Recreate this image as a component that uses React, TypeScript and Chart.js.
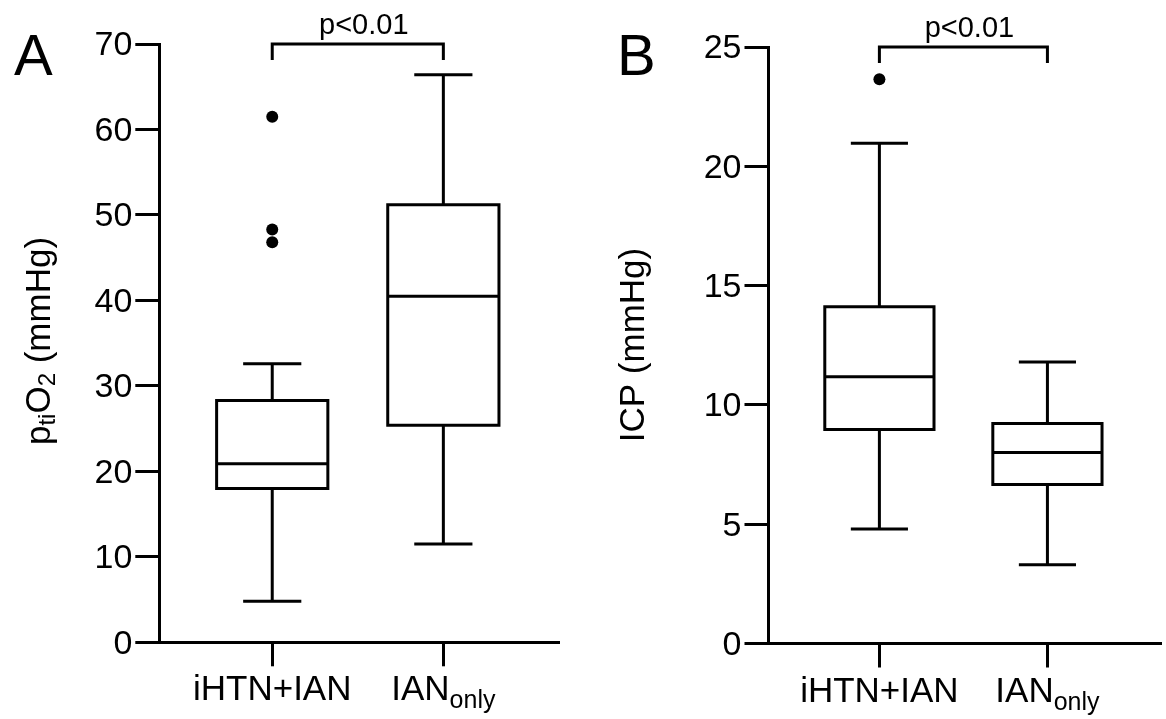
import React, { useEffect, useRef } from 'react';
import { Chart, registerables } from 'chart.js';

Chart.register(...registerables);

// ---------- data ----------
const categories = ['iHTN+IAN', 'IAN'];
const categorySubs = ['', 'only'];

// Panel A: ptiO2 (mmHg)
const aMin = [4.8, 11.5];
const aQ1 = [18.0, 25.4];
const aMedian = [20.9, 40.5];
const aQ3 = [28.3, 51.2];
const aMax = [32.6, 66.4];
const aOutliers = [[61.5, 48.3, 46.8], []];
const aTickStep = 10;
const aYMax = 70;

// Panel B: ICP (mmHg)
const bMin = [4.8, 3.3];
const bQ1 = [8.97, 6.66];
const bMedian = [11.18, 8.0];
const bQ3 = [14.11, 9.22];
const bMax = [20.97, 11.8];
const bOutliers = [[23.65], []];
const bTickStep = 5;
const bYMax = 25;

const pText = 'p<0.01';

// ---------- drawing helpers ----------
const FONT = '"Liberation Sans", Arial, Helvetica, sans-serif';

type Seg = { t: string; sub?: boolean };

function drawSegs(
  ctx: CanvasRenderingContext2D,
  segs: Seg[],
  x: number,
  y: number,
  size: number,
  subSize: number,
  subDrop: number
) {
  const widths = segs.map((s) => {
    ctx.font = `${s.sub ? subSize : size}px ${FONT}`;
    return ctx.measureText(s.t).width;
  });
  const total = widths.reduce((a, b) => a + b, 0);
  let cx = x - total / 2;
  ctx.textAlign = 'left';
  ctx.textBaseline = 'alphabetic';
  segs.forEach((s, i) => {
    ctx.font = `${s.sub ? subSize : size}px ${FONT}`;
    ctx.fillText(s.t, cx, y + (s.sub ? subDrop : 0));
    cx += widths[i];
  });
}

type PanelCfg = {
  letter: string;
  letterX: number;
  letterY: number;
  title: Seg[];
  titleX: number;
  titleY: number;
  min: number[];
  q1: number[];
  median: number[];
  q3: number[];
  max: number[];
  outliers: number[][];
  yMax: number;
  step: number;
  canvasWidth: number;
  yWidth: number;
  padTop: number;
  padRight: number;
  xHeight: number;
};

const BOX_HALF = 0.325;
const CAP_HALF = 0.17;

function makePlugin(cfg: PanelCfg) {
  return {
    id: 'boxAndText' + cfg.letter,
    afterDatasetsDraw(chart: any) {
      const ctx: CanvasRenderingContext2D = chart.ctx;
      const xs = chart.scales.x;
      const ys = chart.scales.y;
      const area = chart.chartArea;
      ctx.save();
      ctx.strokeStyle = '#000';
      ctx.fillStyle = '#000';
      ctx.lineWidth = 3;
      ctx.lineCap = 'butt';
      ctx.lineJoin = 'miter';

      // boxes
      categories.forEach((_, i) => {
        const xc = xs.getPixelForValue(i);
        const xl = xs.getPixelForValue(i - BOX_HALF);
        const xr = xs.getPixelForValue(i + BOX_HALF);
        const cl = xs.getPixelForValue(i - CAP_HALF);
        const cr = xs.getPixelForValue(i + CAP_HALF);
        const yMin = ys.getPixelForValue(cfg.min[i]);
        const yQ1 = ys.getPixelForValue(cfg.q1[i]);
        const yMed = ys.getPixelForValue(cfg.median[i]);
        const yQ3 = ys.getPixelForValue(cfg.q3[i]);
        const yMaxP = ys.getPixelForValue(cfg.max[i]);
        ctx.beginPath();
        ctx.rect(xl, yQ3, xr - xl, yQ1 - yQ3);
        ctx.stroke();
        ctx.beginPath();
        ctx.moveTo(xl, yMed);
        ctx.lineTo(xr, yMed);
        // whiskers
        ctx.moveTo(xc, yQ3);
        ctx.lineTo(xc, yMaxP);
        ctx.moveTo(cl, yMaxP);
        ctx.lineTo(cr, yMaxP);
        ctx.moveTo(xc, yQ1);
        ctx.lineTo(xc, yMin);
        ctx.moveTo(cl, yMin);
        ctx.lineTo(cr, yMin);
        ctx.stroke();
      });

      // significance bracket
      const x0 = xs.getPixelForValue(0);
      const x1 = xs.getPixelForValue(1);
      const yTop = ys.getPixelForValue(cfg.yMax);
      ctx.beginPath();
      ctx.moveTo(x0, yTop + 16);
      ctx.lineTo(x0, yTop);
      ctx.lineTo(x1, yTop);
      ctx.lineTo(x1, yTop + 16);
      ctx.stroke();
      ctx.font = `29px ${FONT}`;
      ctx.textAlign = 'center';
      ctx.textBaseline = 'alphabetic';
      ctx.fillText(pText, (x0 + x1) / 2 + 6, yTop - 10);

      // category labels
      categories.forEach((c, i) => {
        const segs: Seg[] = [{ t: c }];
        if (categorySubs[i]) segs.push({ t: categorySubs[i], sub: true });
        drawSegs(ctx, segs, xs.getPixelForValue(i), area.bottom + 58, 35, 25, 8);
      });

      // panel letter
      ctx.font = `58px ${FONT}`;
      ctx.textAlign = 'left';
      ctx.textBaseline = 'alphabetic';
      ctx.fillText(cfg.letter, cfg.letterX, cfg.letterY);

      // y title (rotated)
      ctx.save();
      ctx.translate(cfg.titleX, cfg.titleY);
      ctx.rotate(-Math.PI / 2);
      drawSegs(ctx, cfg.title, 0, 0, 35, 24, 5);
      ctx.restore();

      ctx.restore();
    },
  };
}

const panelA: PanelCfg = {
  letter: 'A',
  letterX: 14,
  letterY: 75,
  title: [{ t: 'p' }, { t: 'ti', sub: true }, { t: 'O' }, { t: '2', sub: true }, { t: ' (mmHg)' }],
  titleX: 50,
  titleY: 341,
  min: aMin,
  q1: aQ1,
  median: aMedian,
  q3: aQ3,
  max: aMax,
  outliers: aOutliers,
  yMax: aYMax,
  step: aTickStep,
  canvasWidth: 580,
  yWidth: 159.3,
  padTop: 44,
  padRight: 22,
  xHeight: 76.7,
};

const panelB: PanelCfg = {
  letter: 'B',
  letterX: 37,
  letterY: 74.5,
  title: [{ t: 'ICP (mmHg)' }],
  titleX: 63.5,
  titleY: 345,
  min: bMin,
  q1: bQ1,
  median: bMedian,
  q3: bQ3,
  max: bMax,
  outliers: bOutliers,
  yMax: bYMax,
  step: bTickStep,
  canvasWidth: 586,
  yWidth: 188.5,
  padTop: 47,
  padRight: 0,
  xHeight: 75.5,
};

function Panel({ cfg, left }: { cfg: PanelCfg; left: number }) {
  const ref = useRef<HTMLCanvasElement | null>(null);
  useEffect(() => {
    if (!ref.current) return;
    const outlierPoints: { x: number; y: number }[] = [];
    cfg.outliers.forEach((arr, i) => arr.forEach((v) => outlierPoints.push({ x: i, y: v })));
    const axisGrid = {
      drawOnChartArea: false,
      drawTicks: true,
      tickLength: 24,
      lineWidth: 3,
      color: '#000',
    };
    const axisBorder = { display: true, width: 3, color: '#000' };
    const chart = new Chart(ref.current, {
      type: 'scatter',
      data: {
        datasets: [
          {
            data: outlierPoints,
            pointRadius: 6,
            pointHoverRadius: 6,
            pointBackgroundColor: '#000',
            pointBorderColor: '#000',
            pointBorderWidth: 0,
          },
        ],
      },
      options: {
        responsive: false,
        animation: false,
        devicePixelRatio: 1,
        layout: { padding: { left: 0, right: cfg.padRight, top: cfg.padTop, bottom: 0 } },
        plugins: { legend: { display: false }, tooltip: { enabled: false } },
        events: [],
        scales: {
          x: {
            type: 'linear',
            min: -0.66,
            max: 1.67,
            afterBuildTicks: (s: any) => {
              s.ticks = categories.map((_, i) => ({ value: i }));
            },
            afterFit: (s: any) => {
              s.height = cfg.xHeight;
            },
            grid: axisGrid,
            border: axisBorder,
            ticks: { callback: () => '', font: { size: 8 } },
          },
          y: {
            type: 'linear',
            min: 0,
            max: cfg.yMax,
            afterFit: (s: any) => {
              s.width = cfg.yWidth;
            },
            grid: axisGrid,
            border: axisBorder,
            ticks: {
              stepSize: cfg.step,
              color: '#000',
              padding: 3,
              labelOffset: 2,
              font: { family: FONT, size: 34 },
            },
          },
        },
      } as any,
      plugins: [makePlugin(cfg)],
    });
    return () => chart.destroy();
  }, []);
  return (
    <canvas
      ref={ref}
      width={cfg.canvasWidth}
      height={719}
      style={{ position: 'absolute', left, top: 0, width: cfg.canvasWidth, height: 719 }}
    />
  );
}

export default function App() {
  return (
    <div style={{ position: 'absolute', left: 0, top: 0, width: 1166, height: 719, background: '#fff' }}>
      <Panel cfg={panelA} left={0} />
      <Panel cfg={panelB} left={580} />
    </div>
  );
}
